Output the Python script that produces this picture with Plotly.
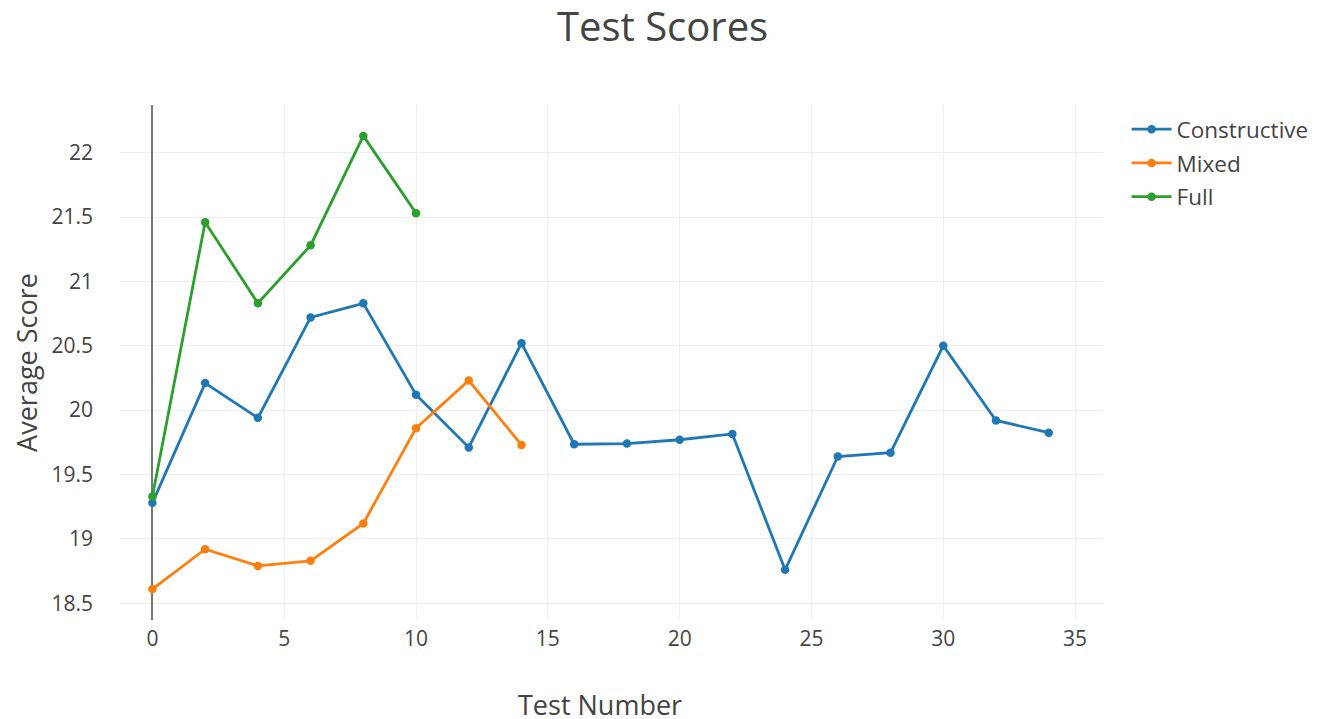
import plotly.graph_objects as go

x_constructive = [0, 2, 4, 6, 8, 10, 12, 14, 16, 18, 20, 22, 24, 26, 28, 30, 32, 34]
y_constructive = [19.28, 20.21, 19.94, 20.72, 20.83, 20.12, 19.71, 20.52, 19.735, 19.74, 19.77,
                  19.815, 18.76, 19.64, 19.67, 20.50, 19.92, 19.825]
x_mixed = [0, 2, 4, 6, 8, 10, 12, 14]
y_mixed = [18.61, 18.92, 18.79, 18.83, 19.12, 19.86, 20.23, 19.73]
x_full = [0, 2, 4, 6, 8, 10]
y_full = [19.33, 21.46, 20.83, 21.28, 22.13, 21.53]

series = [
    ("Constructive", x_constructive, y_constructive, "#1f77b4"),
    ("Mixed", x_mixed, y_mixed, "#ff7f0e"),
    ("Full", x_full, y_full, "#2ca02c"),
]

fig = go.Figure()
for name, xs, ys, color in series:
    fig.add_trace(go.Scatter(x=xs, y=ys, name=name, mode="lines+markers",
                             legendgroup=name,
                             line=dict(color=color, width=2.8),
                             marker=dict(color=color, size=8.5)))

fig.update_layout(
    width=1317, height=711,
    font=dict(family="Open Sans, sans-serif", color="#444"),
    title=dict(text="Test Scores", x=0.497, xanchor="center", y=0.973, yanchor="middle",
               font=dict(size=40)),
    margin=dict(l=112, r=222, t=97, b=99, autoexpand=False),
    plot_bgcolor="white", paper_bgcolor="white",
    xaxis=dict(range=[-1.23, 36.06], tickvals=[0, 5, 10, 15, 20, 25, 30, 35],
               gridcolor="#eee", gridwidth=1.4, zeroline=True, zerolinecolor="#777",
               zerolinewidth=2, tickfont=dict(size=21), showline=False,
               ticks="outside", ticklen=0.01, tickcolor="rgba(0,0,0,0)"),
    yaxis=dict(title=dict(text="Average Score", font=dict(size=27), standoff=6),
               range=[18.37, 22.37], tickvals=[18.5, 19, 19.5, 20, 20.5, 21, 21.5, 22],
               ticktext=["18.5", "19", "19.5", "20", "20.5", "21", "21.5", "22"],
               gridcolor="#eee", gridwidth=1.4, zeroline=False, tickfont=dict(size=21),
               ticks="", ticklabelstandoff=26),
    legend=dict(x=1.024, y=0.994, xanchor="left", yanchor="top", font=dict(size=22.5),
                itemwidth=40, traceorder="grouped", tracegroupgap=1.5),
    annotations=[dict(text="Test Number", xref="paper", yref="paper", x=0.488, y=-0.165,
                      xanchor="center", yanchor="middle", showarrow=False,
                      font=dict(size=27, color="#444"))],
)

fig.write_html("out.html")
